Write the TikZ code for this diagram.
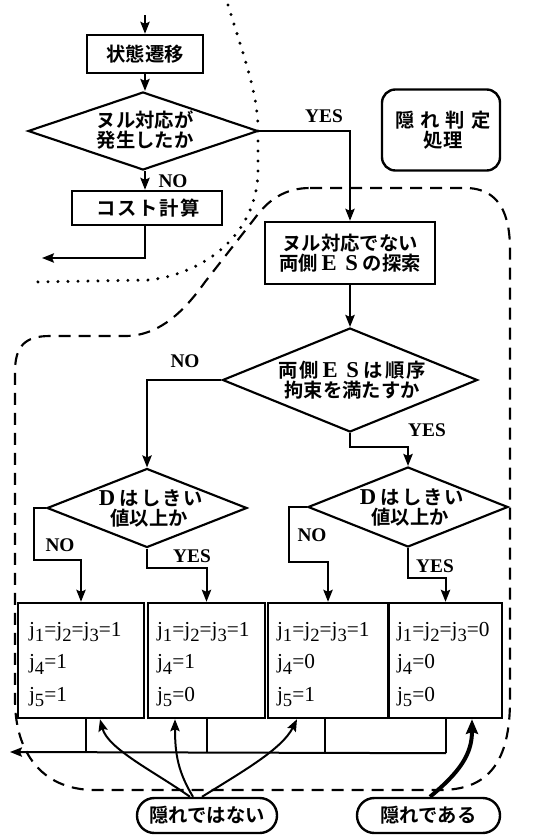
\documentclass[tikz,border=0pt]{standalone}
\usepackage{fontspec}
\setmainfont{Liberation Serif}
\newfontfamily\jp{Noto Sans CJK JP}[BoldFont={Noto Sans CJK JP Bold}]
\usetikzlibrary{shapes.geometric,arrows.meta,calc}
\newcommand\jsub[1]{j\raisebox{-3.8pt}{\fontsize{14}{14}\selectfont #1}}
\newcommand\lat[1]{\hspace{0.2em}{\rmfamily\bfseries\fontsize{17}{15}\selectfont #1}\hspace{0.25em}}
\begin{document}
\begin{tikzpicture}[x=0.75pt,y=-0.75pt,
  lw/.style={line width=1.5pt},
  arr/.style={line width=1.5pt,-{Stealth[length=9pt,width=7pt,inset=1.5pt]}},
  box/.style={draw,line width=1.8pt,inner sep=0pt},
  dia/.style={draw,diamond,line width=1.6pt,inner sep=0pt},
  jpt/.style={font={\fontsize{14.5}{15}\selectfont\jp\bfseries},align=center,inner sep=0pt},
  yn/.style={font={\fontsize{14.5}{14.5}\selectfont\bfseries},inner sep=0pt},
  jt/.style={font={\fontsize{16}{24.4}\selectfont},align=left,anchor=west,inner sep=0pt},
  pill/.style={draw,line width=1.8pt,rounded corners=13pt,inner sep=0pt,minimum height=26.25pt},
  thinl/.style={line width=1.2pt},
  dashl/.style={line width=1.6pt,dash pattern=on 9pt off 6pt},
  dotl/.style={line width=2.5pt,line cap=round,dash pattern=on 0pt off 7.5pt}
]
\useasboundingbox (0,0) rectangle (549,835);

% region outlines
\draw[dotl] (228,5) .. controls (245,60) and (258,95) .. (258,130) -- (258,170)
  .. controls (258,230) and (210,272) .. (150,280) -- (32,282);
\draw[dashl] (310,188) -- (465,188) .. controls (500,188) and (510,215) .. (510,250)
  -- (510,700) .. controls (510,760) and (490,790) .. (440,790) -- (95,790)
  .. controls (40,790) and (15,750) .. (15,700) -- (15,372)
  .. controls (15,346) and (25,336) .. (50,336) -- (125,336)
  .. controls (160,336) and (185,310) .. (205,282) -- (255,218)
  .. controls (268,200) and (285,188) .. (310,188);

% nodes
\coordinate (top) at (145,15);
\node[box,minimum width=87pt,minimum height=28.5pt] (b1) at (145,54) {};
\node[jpt] (b1t) at (b1) {状態遷移};
\node[dia,minimum width=172.5pt,minimum height=58.5pt] (d1) at (143,131) {};
\node[jpt] (d1t) at (145,130) {ヌル対応が\\発生したか};
\node[box,minimum width=112.5pt,minimum height=25.5pt] (b2) at (147,208) {};
\node[jpt] (b2t) at (148,208) {\addfontfeatures{LetterSpace=8}コスト計算};
\coordinate (exit1) at (42,258);
\node[box,minimum width=127.5pt,minimum height=46.5pt] (b3) at (350,253) {};
\node[jpt] (b3t) at (b3) {ヌル対応でない\\両側\lat{E}\lat{S}の探索};
\node[draw,line width=1.8pt,rounded corners=10pt,minimum width=88.5pt,minimum height=60.75pt] (hp) at (441,130) {};
\node[jpt] (hpt) at (443,130) {\addfontfeatures{LetterSpace=30}隠れ判定\\処理};

\node[dia,minimum width=191.25pt,minimum height=78pt] (d2) at (350,380) {};
\node[jpt] (d2t) at (352,380) {\addfontfeatures{LetterSpace=10}両側\lat{E}\lat{S}は順序\\拘束を満たすか};
\node[dia,minimum width=150pt,minimum height=59.25pt] (d3) at (147,508) {};
\node[jpt] (d3t) at (149,508) {\addfontfeatures{LetterSpace=10}\lat{D}はしきい\\値以上か};
\node[dia,minimum width=150pt,minimum height=60pt] (d4) at (408,507) {};
\node[jpt] (d4t) at (410,507) {\addfontfeatures{LetterSpace=10}\lat{D}はしきい\\値以上か};

\node[box,minimum width=94.5pt,minimum height=86.25pt] (bx1) at (81,660.5) {};
\node[box,minimum width=87.75pt,minimum height=86.25pt] (bx2) at (206.5,660.5) {};
\node[box,minimum width=90pt,minimum height=86.25pt] (bx3) at (328,660.5) {};
\node[box,minimum width=84.75pt,minimum height=86.25pt] (bx4) at (445.5,660.5) {};
\node[jt] (bx1t) at ($(bx1.west)+(12,4)$) {\jsub1=\jsub2=\jsub3=1\\\jsub4=1\\\jsub5=1};
\node[jt] (bx2t) at ($(bx2.west)+(10,4)$) {\jsub1=\jsub2=\jsub3=1\\\jsub4=1\\\jsub5=0};
\node[jt] (bx3t) at ($(bx3.west)+(10,4)$) {\jsub1=\jsub2=\jsub3=1\\\jsub4=0\\\jsub5=1};
\node[jt] (bx4t) at ($(bx4.west)+(9,4)$) {\jsub1=\jsub2=\jsub3=0\\\jsub4=0\\\jsub5=0};

\node[pill,minimum width=105pt] (n1) at (207,815.5) {};
\node[jpt] (n1t) at (n1) {隠れではない};
\node[pill,minimum width=107.25pt] (n2) at (428.5,815.5) {};
\node[jpt] (n2t) at (n2) {隠れである};

% labels
\node[yn] (l1) at (173,181) {NO};
\node[yn] (l2) at (324,116) {YES};
\node[yn] (l3) at (185,361) {NO};
\node[yn] (l4) at (427,430) {YES};
\node[yn] (l5) at (60,545) {NO};
\node[yn] (l6) at (192,556) {YES};
\node[yn] (l7) at (312,535) {NO};
\node[yn] (l8) at (435,566) {YES};

% connectors
\draw[arr] (top) -- (b1.north);
\draw[arr] (b1.south) -- (b1.south |- d1.north);
\draw[arr] (b1.south |- d1.south) -- (b1.south |- b2.north);
\draw[arr] (b2.south -| b1.south) |- (exit1);
\draw[arr] (d1.east) -| (b3.north);
\draw[arr] (b3.south) -- (d2.north);
\draw[arr] (d2.west) -| (d3.north);
\draw[arr] (d2.south) -- ++(0,14) -| (d4.north);
\draw[arr] (d3.west) -- ++(-12,0) -- ++(0,52) -| (bx1.north);
\draw[arr] (d3.south) -- ++(0,19) -| (bx2.north);
\draw[arr] (d4.west) -- ++(-18,0) -- ++(0,55) -| (bx3.north);
\draw[arr] (d4.south) -- ++(0,30) -| (bx4.north);

% collector
\coordinate (exit2) at (10,752);
\draw[thinl] ($(bx1.south)+(5,0)$) -- ++(0,34);
\draw[thinl] ($(bx2.south)+(0.5,0)$) -- ++(0,34);
\draw[thinl] ($(bx3.south)+(-3,0)$) -- ++(0,34);
\draw[thinl] ($(bx4.south)+(0.5,0)$) -- ++(0,34) coordinate (c4);
\draw[arr] (c4) -- (exit2);

% pointers
\coordinate (s1) at ($(n1.north)+(-17,0)$);
\coordinate (s2) at ($(n1.north)+(-14,0)$);
\coordinate (s3) at ($(n1.north)+(-5,0)$);
\coordinate (s4) at ($(n2.north)+(1.5,0)$);
\draw[arr] (s1) .. controls +(-35,-25) and +(8,30) .. ($(bx1.south)+(19,0)$);
\draw[arr] (s2) .. controls +(-15,-25) and +(0,35) .. ($(bx2.south)+(-31.5,0)$);
\draw[arr] (s3) .. controls +(40,-25) and +(-15,30) .. ($(bx3.south)+(-31,0)$);
\draw[line width=3pt,-{Stealth[length=11pt,width=9pt,inset=1.5pt]}] (s4) .. controls +(30,-25) and +(0,35) .. ($(bx4.south)+(26.5,0)$);
\end{tikzpicture}
\end{document}
